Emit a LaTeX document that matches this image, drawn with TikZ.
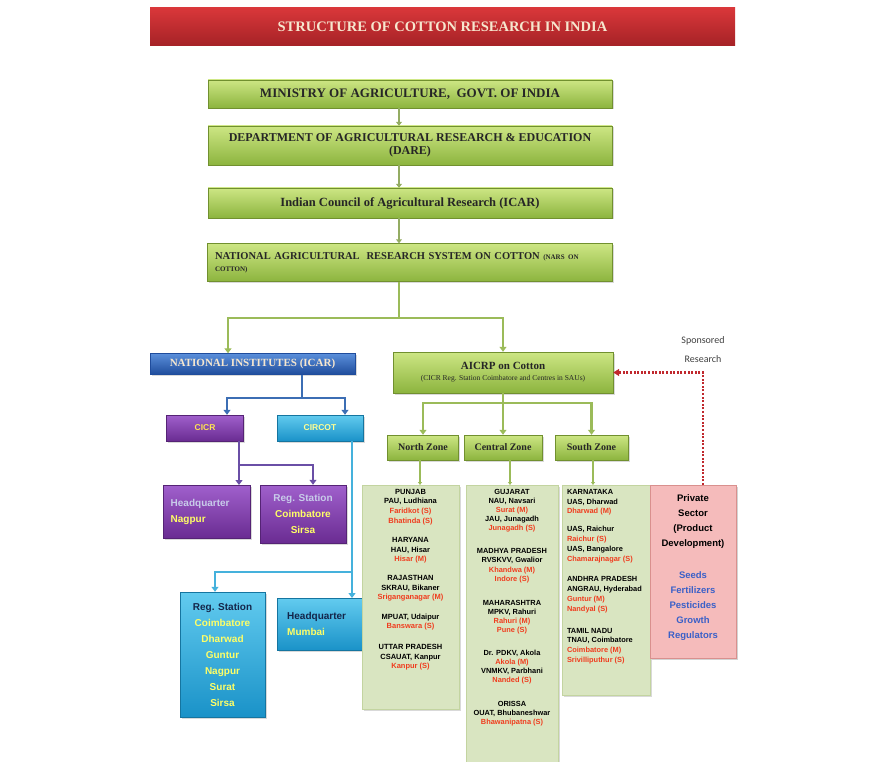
\documentclass[tikz,border=0pt]{standalone}
\usepackage{fontspec}
\setmainfont{Liberation Serif}
\setsansfont{Liberation Sans}
\newfontfamily\notefont{Carlito}
\usepackage{xcolor}
\usetikzlibrary{arrows.meta,shadows}
\definecolor{TitleRedTop}{HTML}{D9373A}
\definecolor{TitleRedBottom}{HTML}{A52226}
\definecolor{TitleText}{HTML}{F6E7CF}
\definecolor{LeafTop}{HTML}{CDE684}
\definecolor{LeafBottom}{HTML}{8CB43E}
\definecolor{LeafEdge}{HTML}{71902F}
\definecolor{LeafLine}{HTML}{9BBB59}
\definecolor{InstituteTop}{HTML}{5A8FDA}
\definecolor{InstituteBottom}{HTML}{1F4C9C}
\definecolor{CicrTop}{HTML}{A060CC}
\definecolor{CicrBottom}{HTML}{6A2C92}
\definecolor{CircotTop}{HTML}{62CBEF}
\definecolor{CircotBottom}{HTML}{1A92C8}
\definecolor{LinkBlue}{HTML}{3C6EB4}
\definecolor{LinkPurple}{HTML}{6A4FA6}
\definecolor{LinkCyan}{HTML}{45B1DC}
\definecolor{StationYellow}{HTML}{FFFF66}
\definecolor{PaleLabel}{HTML}{C8CCEA}
\definecolor{NavyLabel}{HTML}{14264A}
\definecolor{ZoneFill}{HTML}{D9E5C1}
\definecolor{ZoneEdge}{HTML}{C3D4A0}
\definecolor{CentreRed}{HTML}{F03C1E}
\definecolor{PrivatePink}{HTML}{F5BBBB}
\definecolor{PrivateEdge}{HTML}{D9908E}
\definecolor{InputBlue}{HTML}{3A60C8}
\definecolor{SponsorRed}{HTML}{C0282D}
\newcommand{\stn}[1]{\textcolor{CentreRed}{#1}}
\newcommand{\yel}[1]{\textcolor{StationYellow}{#1}}

\begin{document}
\begin{tikzpicture}[x=1pt,y=-1pt,
    shade/.style={drop shadow={shadow xshift=1.5pt,shadow yshift=-1.5pt,opacity=0.3}},
    titlebar/.style={top color=TitleRedTop,bottom color=TitleRedBottom,text=TitleText,
        font=\bfseries\fontsize{14.5}{16}\selectfont,minimum width=585pt,minimum height=38pt},
    leafbox/.style={draw=LeafEdge,top color=LeafTop,bottom color=LeafBottom,text=black!85,
        inner sep=1pt,shade},
    bluebox/.style={draw=InstituteBottom,top color=InstituteTop,bottom color=InstituteBottom,
        text=TitleText,inner sep=1pt,shade},
    purplebox/.style={draw=CicrBottom!80!black,top color=CicrTop,bottom color=CicrBottom,
        font=\sffamily\bfseries\fontsize{10}{16}\selectfont,inner sep=3pt,shade},
    cyanbox/.style={draw=CircotBottom!80!black,top color=CircotTop,bottom color=CircotBottom,
        font=\sffamily\bfseries\fontsize{10}{16}\selectfont,inner sep=3pt,shade},
    zonecol/.style={draw=ZoneEdge,fill=ZoneFill,shade},
    zonelist/.style={inner sep=0pt,font=\sffamily\bfseries\fontsize{7.5}{9.6}\selectfont},
    tierarrow/.style={draw=LeafLine!75!gray,line width=2pt,-{Triangle[length=4pt,width=6pt]}},
    leafline/.style={draw=LeafLine,line width=2.5pt},
    leafarrow/.style={leafline,-{Triangle[length=5pt,width=7pt]}},
    bluearrow/.style={draw=LinkBlue,line width=2.5pt,-{Triangle[length=5pt,width=7pt]}},
    purplearrow/.style={draw=LinkPurple,line width=2.5pt,-{Triangle[length=5pt,width=7pt]}},
    cyanarrow/.style={draw=LinkCyan,line width=2.5pt,-{Triangle[length=5pt,width=7pt]}},
    sponsorlink/.style={draw=SponsorRed,line width=2.2pt,dash pattern=on 2pt off 1.6pt,
        -{Triangle[length=6pt,width=7pt]}}]
    \useasboundingbox (0,0) rectangle (876,762);

    \node[titlebar] (title) at (442.5,27) {STRUCTURE OF COTTON RESEARCH IN INDIA};

    \node[leafbox,minimum width=404pt,minimum height=28pt,font=\bfseries\fontsize{13}{15}\selectfont]
        (ministry) at (410,94) {MINISTRY OF AGRICULTURE,\ \ GOVT.\ OF INDIA};
    \node[leafbox,minimum width=404pt,minimum height=39pt,align=center,font=\bfseries\fontsize{12}{13}\selectfont]
        (dare) at (410,145.5) {DEPARTMENT OF AGRICULTURAL RESEARCH \& EDUCATION\\(DARE)};
    \node[leafbox,minimum width=404pt,minimum height=30pt,font=\bfseries\fontsize{12.5}{14}\selectfont]
        (icar) at (410,203) {Indian Council of Agricultural Research (ICAR)};
    \node[leafbox,minimum width=405pt,minimum height=38pt,align=left,text width=390pt,
        font=\bfseries\fontsize{10.5}{12}\selectfont]
        (nars) at (410,262.5) {NATIONAL AGRICULTURAL\ \ RESEARCH SYSTEM ON COTTON {\fontsize{7}{12}\selectfont (NARS ON}\\
        {\fontsize{7}{12}\selectfont COTTON)}};

    \coordinate (spine) at (399,0);
    \foreach \upper/\lower in {ministry/dare,dare/icar,icar/nars}
        \draw[tierarrow] (\upper.south -| spine) -- (\lower.north -| spine);

    \node[bluebox,minimum width=205pt,minimum height=21pt,font=\bfseries\fontsize{11}{12}\selectfont]
        (ni) at (252.5,364) {NATIONAL INSTITUTES (ICAR)};
    \node[leafbox,minimum width=220pt,minimum height=41pt,align=center,font=\bfseries\fontsize{11}{13}\selectfont]
        (aicrp) at (503,372.5) {AICRP on Cotton\\[-2pt]{\mdseries\fontsize{7.5}{9}\selectfont (CICR Reg. Station Coimbatore and Centres in SAUs)}};

    \coordinate (narsfork) at (399,318);
    \draw[leafline] (nars.south -| narsfork) -- (narsfork);
    \draw[leafarrow] (narsfork) -| ([xshift=-24.5pt]ni.north);
    \draw[leafarrow] (narsfork) -| (aicrp.north);

    % ICAR institutes
    \node[purplebox,minimum width=77pt,minimum height=26pt,text=StationYellow!80!orange,font=\sffamily\bfseries\fontsize{8.5}{10}\selectfont]
        (cicr) at (205,428) {CICR};
    \node[cyanbox,minimum width=86pt,minimum height=26pt,text=StationYellow!70!white,font=\sffamily\bfseries\fontsize{8.5}{10}\selectfont]
        (circot) at (320,428) {CIRCOT};

    \coordinate (nifork) at (302,398);
    \draw[draw=LinkBlue,line width=2.5pt] (ni.south -| nifork) -- (nifork);
    \draw[bluearrow] (nifork) -| ([xshift=22pt]cicr.north);
    \draw[bluearrow] (nifork) -| ([xshift=25pt]circot.north);

    \node[purplebox,minimum height=53pt,inner xsep=7.5pt,text width=72pt,align=left,anchor=north west]
        (hqn) at (163,485) {\textcolor{PaleLabel}{Headquarter}\\\yel{Nagpur}};
    \node[purplebox,minimum width=86pt,minimum height=58pt,align=center]
        (rsp) at (303,514) {\textcolor{PaleLabel}{Reg. Station}\\\yel{Coimbatore}\\\yel{Sirsa}};

    \coordinate (cicrfork) at (239,465);
    \draw[purplearrow] (cicr.south -| cicrfork) -- (hqn.north -| cicrfork);
    \draw[purplearrow] (cicrfork) -| ([xshift=10pt]rsp.north);

    \node[cyanbox,minimum width=85pt,minimum height=125pt,align=center]
        (rsc) at (222.5,654.5) {\textcolor{NavyLabel}{Reg. Station}\\\yel{Coimbatore}\\\yel{Dharwad}\\\yel{Guntur}\\
        \yel{Nagpur}\\\yel{Surat}\\\yel{Sirsa}};
    \node[cyanbox,minimum height=52pt,inner xsep=10pt,text width=66pt,align=left,anchor=north west]
        (hqm) at (277,598) {\textcolor{NavyLabel}{Headquarter}\\\yel{Mumbai}};

    \coordinate (circotfork) at (352,572);
    \draw[draw=LinkCyan,line width=2.5pt] (circot.south -| circotfork) -- (circotfork);
    \draw[cyanarrow] (circotfork) -- (hqm.north -| circotfork);
    \draw[cyanarrow] (circotfork) -| ([xshift=-7.5pt]rsc.north);

    % AICRP zones
    \node[leafbox,minimum width=71pt,minimum height=25pt,font=\bfseries\fontsize{10}{11}\selectfont]
        (north) at (423,447.5) {North Zone};
    \node[leafbox,minimum width=78pt,minimum height=25pt,font=\bfseries\fontsize{10}{11}\selectfont]
        (central) at (503,447.5) {Central Zone};
    \node[leafbox,minimum width=73pt,minimum height=25pt,font=\bfseries\fontsize{10}{11}\selectfont]
        (south) at (591.5,447.5) {South Zone};

    \coordinate (aicrpfork) at (503,403);
    \draw[leafline] (aicrp.south) -- (aicrpfork);
    \draw[leafarrow] (aicrpfork) -| (north.north);
    \draw[leafarrow] (aicrpfork) -- (central.north);
    \draw[leafarrow] (aicrpfork) -| (south.north);

    \node[zonecol,minimum width=97pt,minimum height=224pt,anchor=north] (northcol) at (410.5,485) {};
    \node[zonecol,minimum width=92pt,minimum height=280pt,anchor=north] (centralcol) at (512,485) {};
    \node[zonecol,minimum width=88pt,minimum height=210pt,anchor=north] (southcol) at (606,485) {};

    \draw[leafline,line width=1.5pt,-{Triangle[length=3pt,width=4pt]}] ([xshift=-3pt]north.south) -- ([xshift=-3pt]north.south |- northcol.north);
    \draw[leafline,line width=1.5pt,-{Triangle[length=3pt,width=4pt]}] ([xshift=7pt]central.south) -- ([xshift=7pt]central.south |- centralcol.north);
    \draw[leafline,line width=1.5pt,-{Triangle[length=3pt,width=4pt]}] ([xshift=1.5pt]south.south) -- ([xshift=1.5pt]south.south |- southcol.north);

    \node[zonelist,align=center,anchor=north] (northlist) at ([yshift=-4pt]northcol.north) {%
        PUNJAB\\PAU, Ludhiana\\\stn{Faridkot (S)}\\\stn{Bhatinda (S)}\\[10pt]
        HARYANA\\HAU, Hisar\\\stn{Hisar (M)}\\[9pt]
        RAJASTHAN\\SKRAU, Bikaner\\\stn{Sriganganagar (M)}\\[10pt]
        MPUAT, Udaipur\\\stn{Banswara (S)}\\[11pt]
        UTTAR PRADESH\\CSAUAT, Kanpur\\\stn{Kanpur (S)}};
    \node[zonelist,align=center,anchor=north,font=\sffamily\bfseries\fontsize{7.4}{9.1}\selectfont]
        (centrallist) at ([yshift=-4pt]centralcol.north) {%
        GUJARAT\\NAU, Navsari\\\stn{Surat (M)}\\JAU, Junagadh\\\stn{Junagadh (S)}\\[14pt]
        MADHYA PRADESH\\RVSKVV, Gwalior\\\stn{Khandwa (M)}\\\stn{Indore (S)}\\[15pt]
        MAHARASHTRA\\MPKV, Rahuri\\\stn{Rahuri (M)}\\\stn{Pune (S)}\\[14pt]
        Dr. PDKV, Akola\\\stn{Akola (M)}\\VNMKV, Parbhani\\\stn{Nanded (S)}\\[14pt]
        ORISSA\\OUAT, Bhubaneshwar\\\stn{Bhawanipatna (S)}};
    \node[zonelist,align=left,anchor=north west,font=\sffamily\bfseries\fontsize{7.4}{9.8}\selectfont]
        (southlist) at ([xshift=5pt,yshift=-4pt]southcol.north west) {%
        KARNATAKA\\UAS, Dharwad\\\stn{Dharwad (M)}\\[8pt]
        UAS, Raichur\\\stn{Raichur (S)}\\UAS, Bangalore\\\stn{Chamarajnagar (S)}\\[11pt]
        ANDHRA PRADESH\\ANGRAU, Hyderabad\\\stn{Guntur (M)}\\\stn{Nandyal (S)}\\[12pt]
        TAMIL NADU\\TNAU, Coimbatore\\\stn{Coimbatore (M)}\\\stn{Srivilliputhur (S)}};

    % private sector
    \node[draw=PrivateEdge,fill=PrivatePink,minimum width=86pt,minimum height=173pt,anchor=north,
        drop shadow={shadow xshift=2pt,shadow yshift=-2pt,opacity=0.35}] (private) at (693,485) {};
    \node[inner sep=0pt,align=center,anchor=north,font=\sffamily\bfseries\fontsize{9.5}{15}\selectfont]
        (privatelist) at ([yshift=-9pt]private.north) {%
        Private\\Sector\\(Product\\Development)\\[17pt]
        \textcolor{InputBlue}{Seeds}\\\textcolor{InputBlue}{Fertilizers}\\\textcolor{InputBlue}{Pesticides}\\
        \textcolor{InputBlue}{Growth}\\\textcolor{InputBlue}{Regulators}};

    \node[align=center,text=black!75,font=\notefont\fontsize{10}{19}\selectfont] (sponsor) at (703,350) {Sponsored\\Research};
    \draw[sponsorlink] ([xshift=10pt]private.north) |- (aicrp.east);
\end{tikzpicture}
\end{document}
